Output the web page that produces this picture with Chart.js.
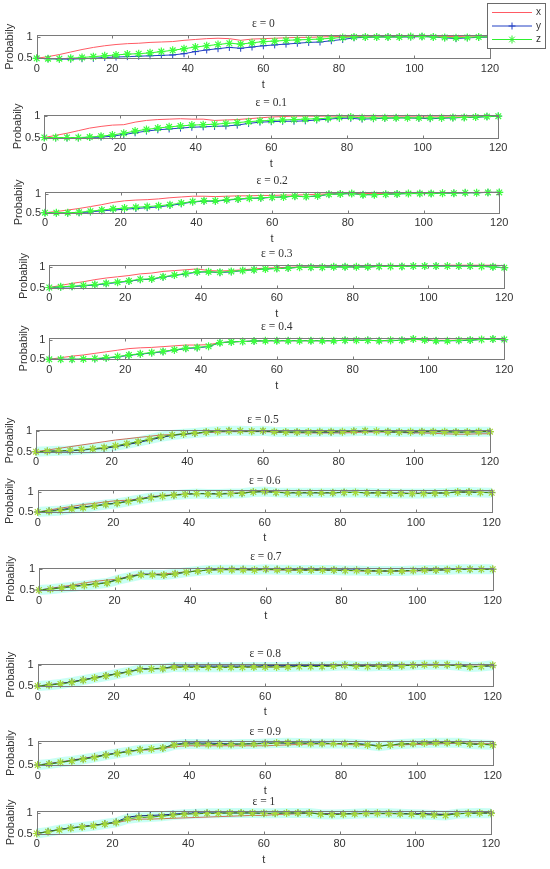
<!DOCTYPE html>
<html>
<head>
<meta charset="utf-8">
<script src="https://cdn.jsdelivr.net/npm/chart.js@4.4.0/dist/chart.umd.min.js"></script>
<style>
  html, body { margin: 0; padding: 0; background: #fff; }
  #page { position: relative; width: 550px; height: 869px; overflow: hidden; }
  .panel { position: absolute; left: 0; width: 550px; }
</style>
</head>
<body>
<div id="page"></div>
<script>
// time axis
const t = [0, 3, 6, 9, 12, 15, 18, 21, 24, 27, 30, 33, 36, 39, 42, 45, 48, 51, 54, 57,
  60, 63, 66, 69, 72, 75, 78, 81, 84, 87, 90, 93, 96, 99, 102, 105, 108, 111, 114, 117, 120];

const epsLabels = ['0', '0.1', '0.2', '0.3', '0.4', '0.5', '0.6', '0.7', '0.8', '0.9', '1'];
const xTicks = [0, 20, 40, 60, 80, 100, 120];
const yTicks = [0.5, 1];
const yMax = [1.05, 1.02, 1.04, 1.055, 1.048, 1.03, 1.053, 1.03, 1.04, 1.03, 1.04];

// probability x (red), one array per epsilon
const xSeries = [
  [.50,.54,.59,.65,.71,.76,.80,.83,.85,.86, .88,.89,.90,.93,.95,.97,.98,.97,.93,.96, .97,.98,.99,1.00,1.00,1.01,1.02,1.02,1.02,1.02, 1.02,1.02,1.02,1.03,1.03,1.03,1.02,1.02,1.03,1.03, 1.03],
  [.50,.55,.60,.66,.72,.76,.79,.80,.86,.90, .92,.93,.94,.93,.93,.90,.91,.92,.94,.96, .98,.99,1.00,1.00,1.00,1.00,1.00,1.00,1.00,1.00, 1.00,1.00,1.00,1.00,1.00,1.00,1.00,1.00,1.00,1.00, 1.00],
  [.50,.53,.57,.61,.66,.71,.77,.81,.83,.84, .86,.89,.91,.93,.93,.92,.93,.94,.94,.95, .95,.96,.96,.97,.98,.99,1.00,1.00,1.00,1.00, 1.00,1.01,1.01,1.01,1.01,1.02,1.02,1.02,1.03,1.03, 1.03],
  [.50,.55,.60,.64,.69,.73,.76,.79,.83,.85, .89,.91,.93,.95,.91,.90,.91,.93,.95,.97, .98,.99,1.00,1.00,1.00,1.00,1.00,1.00,1.00,1.01, 1.01,1.02,1.03,1.03,1.03,1.04,1.04,1.04,1.04,1.04, 1.03],
  [.50,.54,.58,.61,.65,.69,.73,.77,.79,.80, .82,.84,.86,.86,.87,.92,.94,.95,.96,.97, .97,.97,.97,.97,.97,.97,.98,.98,.98,.97, .97,.98,1.00,.99,.98,.98,.98,.99,1.00,1.00, 1.00],
  [.50,.54,.58,.62,.66,.70,.74,.78,.81,.84, .87,.90,.91,.92,.94,.96,.97,.98,.98,.98, .98,.97,.96,.95,.95,.95,.95,.95,.96,.97, .97,.97,.96,.95,.95,.94,.93,.92,.92,.93, .93],
  [.50,.55,.60,.64,.69,.72,.76,.79,.80,.84, .89,.92,.94,.96,.97,.97,.97,.98,.99,1.02, 1.03,1.01,1.00,1.00,1.00,.99,.99,1.00,1.00,.99, .99,.98,.98,.98,.98,.98,.99,1.00,1.00,1.00, 1.00],
  [.50,.54,.58,.62,.67,.71,.74,.76,.84,.88, .88,.89,.91,.94,.96,.98,.99,.99,.99,.98, .99,.98,.98,.97,.97,.97,.97,.97,.96,.95, .95,.95,.95,.96,.96,.97,.99,1.00,1.00,1.00, 1.00],
  [.50,.53,.56,.60,.65,.70,.75,.79,.84,.90, .92,.93,.94,.95,.95,.95,.95,.95,.95,.96, .96,.96,.97,.97,.97,.98,.99,1.00,1.00,.99, .99,.99,1.00,1.00,1.00,1.00,1.00,.99,.98,.98, .99],
  [.50,.53,.57,.61,.65,.69,.73,.77,.80,.83, .84,.87,.91,.93,.93,.93,.93,.93,.93,.93, .93,.94,.95,.96,.97,.97,.97,.96,.95,.94, .93,.94,.95,.96,.96,.97,.98,.99,.99,.98, .97],
  [.50,.55,.59,.63,.67,.70,.73,.76,.82,.85, .85,.86,.87,.88,.89,.90,.91,.92,.93,.94, .94,.96,.97,.98,.99,.99,.98,.98,.98,.98, .98,.98,.98,.98,.98,.97,.97,.98,.99,1.00, 1.00]
];

// probability y (blue, + markers)
const ySeries = [
  [.50,.49,.48,.48,.49,.50,.52,.53,.54,.55, .56,.57,.58,.61,.66,.70,.73,.76,.74,.77, .80,.82,.84,.86,.88,.89,.92,.95,.99,1.00, 1.01,1.01,1.01,1.01,1.02,1.01,.99,.97,.99,1.00, 1.01],
  [.50,.49,.49,.49,.50,.51,.53,.57,.61,.65, .68,.70,.72,.74,.75,.76,.77,.79,.83,.86, .87,.88,.88,.89,.91,.93,.95,.95,.93,.94, .95,.96,.96,.95,.94,.95,.96,.97,.97,.99, 1.00],
  [.50,.49,.49,.50,.52,.55,.57,.59,.61,.63, .65,.69,.73,.78,.80,.80,.83,.85,.87,.88, .90,.91,.93,.92,.93,.98,.99,1.00,.97,.97, .98,.99,1.00,1.00,1.00,1.01,1.01,1.02,1.02,1.03, 1.03],
  [.50,.51,.52,.54,.56,.59,.62,.65,.69,.70, .75,.79,.83,.87,.88,.86,.88,.91,.93,.95, .96,.97,.99,.99,.99,1.00,1.00,1.00,1.00,1.01, 1.01,1.01,1.02,1.02,1.02,1.02,1.02,1.02,1.01,1.00, .98],
  [.50,.50,.50,.50,.51,.53,.56,.60,.63,.66, .69,.73,.77,.79,.82,.92,.94,.95,.96,.97, .97,.97,.97,.97,.97,.97,.98,.98,.98,.97, .97,.98,1.01,.99,.97,.97,.97,.98,1.00,1.01, .99],
  [.50,.51,.52,.52,.54,.56,.58,.62,.67,.72, .78,.84,.89,.92,.94,.97,.99,1.00,1.00,.99, .99,.98,.97,.97,.97,.97,.97,.98,.99,.99, .99,.98,.97,.97,.98,.98,.98,.97,.97,.98, .98],
  [.50,.53,.56,.60,.63,.66,.70,.73,.78,.83, .88,.91,.93,.95,.97,.97,.96,.97,.98,1.01, 1.02,1.00,.99,.99,.99,.99,.99,1.00,1.00,.99, .99,.98,.98,.97,.98,.98,.99,1.01,1.01,1.00, 1.00],
  [.50,.53,.56,.59,.62,.65,.68,.76,.82,.88, .88,.86,.89,.93,.96,.98,1.00,1.00,1.00,.99, 1.00,1.00,.99,.99,.99,.99,.98,.98,.98,.97, .96,.96,.97,.97,.98,.98,.99,1.00,1.00,1.00, 1.00],
  [.50,.53,.56,.60,.65,.70,.75,.80,.85,.91, .92,.92,.98,.98,.98,.98,.98,.98,.98,.98, .99,.99,.99,.99,.99,.99,.99,1.01,.99,.98, .98,.98,.99,1.00,1.02,1.02,1.01,1.00,.97,.97, .99],
  [.50,.53,.56,.60,.64,.68,.73,.77,.81,.84, .86,.88,.96,.99,.99,.99,.98,.97,.97,.98, .99,.99,.99,.99,.99,.99,.98,.98,.98,.96, .93,.95,.97,.98,.99,1.00,1.00,1.00,.97,.96, .96],
  [.50,.55,.60,.64,.67,.70,.74,.78,.90,.93, .94,.95,.97,.99,1.00,1.00,1.00,1.00,1.00,1.00, .99,.99,1.00,1.00,1.00,.98,.97,.98,.99,.99, .99,.99,.99,.98,.98,.97,.96,.99,.99,1.00, 1.00]
];

// probability z (green, * markers)
const zSeries = [
  [.50,.49,.49,.50,.52,.54,.56,.58,.60,.61, .63,.66,.69,.73,.77,.80,.83,.86,.84,.87, .90,.91,.93,.94,.95,.96,.98,1.00,1.01,1.01, 1.01,1.01,1.01,1.02,1.02,1.01,1.00,.99,1.00,1.01, 1.01],
  [.50,.50,.50,.50,.51,.53,.56,.60,.65,.69, .72,.75,.77,.79,.80,.81,.83,.85,.87,.89, .90,.91,.92,.93,.94,.95,.97,.98,.96,.96, .96,.96,.96,.96,.96,.96,.97,.97,.98,.99, 1.00],
  [.50,.50,.50,.51,.54,.57,.60,.62,.64,.66, .68,.71,.75,.79,.81,.81,.84,.86,.88,.89, .90,.91,.93,.92,.94,.98,.99,1.00,.97,.97, .98,.99,1.00,1.00,1.00,1.01,1.01,1.02,1.02,1.03, 1.03],
  [.50,.52,.53,.55,.57,.60,.63,.66,.70,.71, .76,.80,.84,.88,.88,.87,.89,.91,.93,.95, .96,.97,.99,.99,.99,1.00,1.00,1.00,1.00,1.01, 1.01,1.01,1.02,1.02,1.02,1.02,1.02,1.02,1.01,1.00, .98],
  [.50,.50,.50,.51,.52,.54,.57,.61,.64,.67, .70,.74,.78,.80,.83,.92,.94,.95,.96,.97, .97,.97,.97,.97,.97,.97,.98,.98,.98,.97, .98,.98,1.01,.99,.97,.97,.98,.99,1.00,1.01, 1.00],
  [.50,.51,.52,.53,.55,.57,.60,.64,.69,.74, .80,.86,.90,.93,.95,.97,.99,1.00,1.00,.99, 1.00,.98,.97,.97,.97,.98,.98,.98,.99,1.00, .99,.98,.97,.98,.98,.98,.98,.97,.97,.98, .98],
  [.50,.52,.54,.58,.61,.65,.69,.72,.77,.82, .87,.90,.93,.95,.97,.96,.96,.97,.98,1.01, 1.02,1.00,.99,.99,.99,.99,.99,1.00,1.00,.99, .98,.98,.97,.97,.97,.98,.99,1.01,1.01,1.00, .99],
  [.50,.52,.55,.58,.61,.64,.67,.75,.81,.87, .87,.86,.89,.93,.96,.98,.99,.99,.99,.98, 1.00,.99,.99,.98,.98,.98,.98,.97,.97,.96, .96,.96,.96,.97,.98,.98,.99,1.00,1.00,1.00, 1.00],
  [.50,.52,.55,.59,.64,.69,.74,.79,.84,.90, .91,.92,.96,.95,.95,.95,.95,.95,.95,.96, .96,.96,.96,.97,.97,.97,.98,1.00,.98,.97, .98,.98,.99,1.00,1.01,1.01,1.01,.99,.96,.97, 1.00],
  [.50,.52,.56,.59,.63,.67,.72,.76,.80,.84, .86,.88,.95,.97,.97,.96,.96,.96,.97,.97, .98,.99,1.00,.99,.98,.98,.98,.98,.97,.95, .92,.95,.97,.98,.99,1.00,1.00,1.00,.97,.96, .95],
  [.50,.54,.59,.63,.66,.69,.73,.77,.86,.89, .90,.92,.95,.97,.98,.99,.99,1.00,1.00,1.00, .99,.99,1.00,1.00,1.00,.97,.96,.97,.98,.99, .99,.99,.98,.97,.96,.95,.94,.98,.99,1.00, .99]
];

// subplot boxes in page pixels (left, right, top, bottom of the axes, title centre, ylabel centre)
const boxes = [
  { l: 36.7, r: 490,   top: 35,    bot: 58.3,  ty: 24,    yl: 10 },
  { l: 44.3, r: 498.3, top: 115,   bot: 137.5, ty: 103,   yl: 18 },
  { l: 45,   r: 499.3, top: 191.7, bot: 212.7, ty: 181,   yl: 19 },
  { l: 49.3, r: 504.3, top: 264.3, bot: 287.5, ty: 254,   yl: 24 },
  { l: 49.3, r: 504.3, top: 337.3, bot: 359.3, ty: 327,   yl: 24 },
  { l: 36,   r: 490,   top: 429.3, bot: 451.7, ty: 419.3, yl: 10 },
  { l: 37.7, r: 491.7, top: 490,   bot: 512,   ty: 480.7, yl: 10 },
  { l: 39,   r: 492.7, top: 567.7, bot: 590,   ty: 556.7, yl: 11 },
  { l: 37.7, r: 492.7, top: 663.3, bot: 686,   ty: 653.3, yl: 11 },
  { l: 37.7, r: 492.7, top: 741,   bot: 765,   ty: 731.7, yl: 11 },
  { l: 36.7, r: 491,   top: 811,   bot: 833.5, ty: 801.7, yl: 11 }
];
const X_AXIS_H = 33;
const SANS = "'Liberation Sans', Arial, sans-serif";
const SERIF = "'Liberation Serif', 'Times New Roman', serif";

// axes box with inward ticks, like MATLAB
const framePlugin = {
  id: 'frame',
  afterDraw(chart) {
    const { ctx, chartArea: a, scales } = chart;
    const L = Math.round(a.left) + 0.5, R = Math.round(a.right) + 0.5;
    const T = Math.round(a.top) + 0.5, B = Math.round(a.bottom) + 0.5;
    ctx.save();
    ctx.strokeStyle = '#7a7a7a';
    ctx.lineWidth = 1;
    ctx.strokeRect(L, T, R - L, B - T);
    ctx.beginPath();
    scales.x.ticks.forEach(tk => {
      const px = Math.round(scales.x.getPixelForValue(tk.value)) + 0.5;
      ctx.moveTo(px, B); ctx.lineTo(px, B - 3);
      ctx.moveTo(px, T); ctx.lineTo(px, T + 3);
    });
    scales.y.ticks.forEach(tk => {
      const py = Math.round(scales.y.getPixelForValue(tk.value)) + 0.5;
      ctx.moveTo(L, py); ctx.lineTo(L + 3, py);
      ctx.moveTo(R, py); ctx.lineTo(R - 3, py);
    });
    ctx.stroke();
    ctx.restore();
  }
};

// boxed legend at the top right corner of the figure
const boxLegend = {
  id: 'boxLegend',
  afterDraw(chart, args, opts) {
    if (!opts.show) return;
    const ctx = chart.ctx;
    const x0 = 487.5, y0 = 3.5, w = 58, h = 45;
    ctx.save();
    ctx.fillStyle = '#fff';
    ctx.fillRect(x0, y0, w, h);
    ctx.strokeStyle = '#6a6a6a';
    ctx.lineWidth = 1;
    ctx.strokeRect(x0, y0, w, h);
    const items = chart.data.datasets.filter(d => d.label);
    items.forEach((d, i) => {
      const yy = y0 + 9 + i * 13.5;
      ctx.strokeStyle = d.borderColor;
      ctx.beginPath();
      ctx.moveTo(492, yy); ctx.lineTo(532, yy);
      const r = d.pointRadius, cx = 512;
      if (d.pointStyle === 'cross' || d.pointStyle === 'star') {
        ctx.moveTo(cx, yy - r); ctx.lineTo(cx, yy + r);
        ctx.moveTo(cx - r, yy); ctx.lineTo(cx + r, yy);
      }
      if (d.pointStyle === 'star') {
        const q = r * 0.7;
        ctx.moveTo(cx - q, yy - q); ctx.lineTo(cx + q, yy + q);
        ctx.moveTo(cx - q, yy + q); ctx.lineTo(cx + q, yy - q);
      }
      ctx.stroke();
      ctx.fillStyle = '#333';
      ctx.font = '10px ' + SANS;
      ctx.textBaseline = 'middle';
      ctx.fillText(d.label, 536, yy);
    });
    ctx.restore();
  }
};

const page = document.getElementById('page');

boxes.forEach((b, i) => {
  const late = i >= 5;
  const top = i === 0 ? 0 : Math.floor(b.ty - 8);
  const need = b.bot + X_AXIS_H - top;
  const height = Math.ceil(need) + 1;

  const div = document.createElement('div');
  div.className = 'panel';
  div.style.top = top + 'px';
  div.style.height = height + 'px';
  const cv = document.createElement('canvas');
  div.appendChild(cv);
  page.appendChild(div);

  const pts = arr => arr.map((v, k) => ({ x: t[k], y: v }));

  const colX = late ? '#c8705c' : '#ff5a64';
  const colY = late ? '#1a2878' : '#2340c4';
  const colZ = late ? '#3f8a18' : '#2ef02e';
  const colZm = late ? '#a4d83a' : '#3cff3c';

  const datasets = [
    { label: 'x', data: pts(xSeries[i]), borderColor: colX, backgroundColor: colX,
      borderWidth: 1, pointRadius: 0, order: 3 },
    { label: 'y', data: pts(ySeries[i]), borderColor: colY, backgroundColor: colY,
      borderWidth: 1, pointStyle: 'cross', pointRadius: 3.5, pointBorderWidth: 1,
      pointBorderColor: colY, order: 2 },
    { label: 'z', data: pts(zSeries[i]), borderColor: colZ, backgroundColor: colZm,
      borderWidth: 1, pointStyle: 'star', pointRadius: 4, pointBorderWidth: 1.2,
      pointBorderColor: colZm, order: 1 }
  ];
  if (late) {
    datasets.push({ label: '', data: pts(zSeries[i]), borderColor: 'rgba(165,255,238,0.6)',
      borderWidth: 10, pointRadius: 0, order: 4 });
  }
  datasets.forEach(d => { d.clip = false; d.tension = 0; });

  new Chart(cv, {
    type: 'line',
    data: { datasets },
    options: {
      responsive: true,
      maintainAspectRatio: false,
      animation: false,
      events: [],
      layout: {
        autoPadding: false,
        padding: { left: 0, right: 550 - b.r, top: b.ty - 6.6 - top, bottom: height - need }
      },
      plugins: {
        legend: { display: false },
        tooltip: { enabled: false },
        title: {
          display: true,
          text: 'ε = ' + epsLabels[i],
          fullSize: false,
          color: '#333',
          font: { family: SERIF, size: 11.5, weight: 'normal' },
          padding: { top: 0, bottom: b.top - b.ty - 6.9 }
        },
        boxLegend: { show: i === 0 }
      },
      scales: {
        x: {
          type: 'linear',
          min: 0, max: 120,
          afterBuildTicks: s => { s.ticks = xTicks.map(v => ({ value: v })); },
          afterFit: s => { s.height = X_AXIS_H; },
          grid: { display: false, drawTicks: false },
          border: { display: false },
          ticks: { color: '#333', padding: 4, autoSkip: false, maxRotation: 0,
                   font: { family: SANS, size: 11 } },
          title: { display: i !== 5, text: 't', color: '#333', padding: { top: 0, bottom: 0 },
                   font: { family: SANS, size: 11 } }
        },
        y: {
          type: 'linear',
          min: 0.5, max: yMax[i],
          afterBuildTicks: s => { s.ticks = yTicks.map(v => ({ value: v })); },
          afterFit: s => { s.width = b.l; },
          grid: { display: false, drawTicks: false },
          border: { display: false },
          ticks: { color: '#333', padding: 4, autoSkip: false,
                   font: { family: SANS, size: 11 },
                   callback: v => String(v) },
          title: { display: true, text: 'Probabily', color: '#333',
                   padding: { top: b.yl - 6.6, bottom: 0 },
                   font: { family: SANS, size: 11 } }
        }
      }
    },
    plugins: [framePlugin, boxLegend]
  });
});
</script>
</body>
</html>
